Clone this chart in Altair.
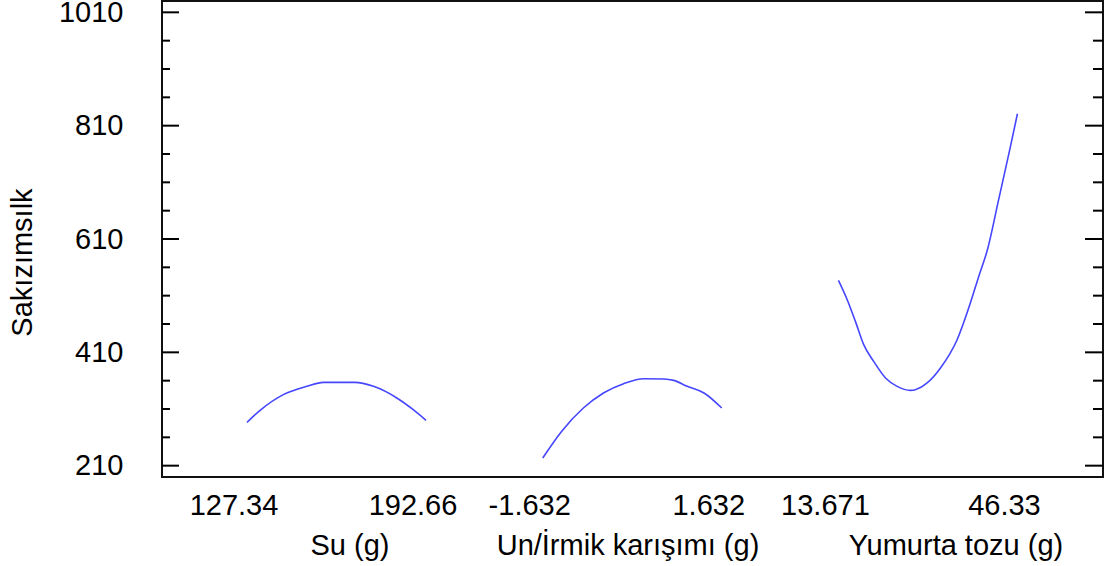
import altair as alt
import pandas as pd

# ---------------- data ----------------
factors = ["Su (g)", "Un/İrmik karışımı (g)", "Yumurta tozu (g)"]
lows = [127.34, -1.632, 13.671]
highs = [192.66, 1.632, 46.33]
low_labels = ["127.34", "-1.632", "13.671"]
high_labels = ["192.66", "1.632", "46.33"]

su_g = [127.34, 132.1, 140.6, 149.2, 155.2, 161.3, 166.7, 173.5, 182.0, 188.0, 192.66]
su_y = [286.4, 307.6, 335.3, 350.0, 357.0, 357.0, 357.0, 350.0, 329.5, 308.8, 290.0]

un_g = [-1.632, -1.289, -0.891, -0.525, -0.157, 0.209, 0.574, 0.757, 1.002, 1.309, 1.632]
un_y = [223.6, 270.5, 311.8, 338.3, 354.7, 363.5, 363.0, 360.5, 350.0, 338.3, 311.8]

yum_g = [13.671, 15.27, 16.77, 18.28, 20.10, 22.26, 24.38, 26.80, 27.71, 29.84,
         32.29, 35.32, 37.74, 39.27, 40.85, 42.90, 45.06, 46.33]
yum_y = [537.0, 502.9, 464.6, 423.5, 394.0, 364.8, 350.0, 342.9, 344.1, 355.9,
         382.4, 432.3, 497.1, 544.0, 591.0, 679.4, 773.4, 831.1]

y_major = [210, 410, 610, 810, 1010]
y_minor = [260, 310, 360, 460, 510, 560, 660, 710, 760, 860, 910, 960]

# ---------------- layout constants ----------------
W, H = 941, 476
SPACING = 1.652
X_DOMAIN = [-0.475, 4.782]
Y_DOMAIN = [190, 1030]
FONT = "Liberation Sans"
FS = 29
LINE_COLOR = "#4646ff"
TITLE_X = [188, 466, 794]  # pixel centres of the factor titles inside the plot

# ---------------- tables ----------------
rows = []
for i, (gs, ys) in enumerate([(su_g, su_y), (un_g, un_y), (yum_g, yum_y)]):
    for g, v in zip(gs, ys):
        rows.append({"factor": factors[i], "idx": i, "level": g,
                     "lo": lows[i], "hi": highs[i], "value": v})
curves = pd.DataFrame(rows)

lab_rows = []
for i in range(3):
    lab_rows.append({"idx": i, "end": 0, "label": low_labels[i]})
    lab_rows.append({"idx": i, "end": 1, "label": high_labels[i]})
tick_labels = pd.DataFrame(lab_rows)

major_df = pd.DataFrame({"value": y_major})
minor_df = pd.DataFrame({"value": y_minor})

xscale = alt.Scale(domain=X_DOMAIN, zero=False, nice=False)
yscale = alt.Scale(domain=Y_DOMAIN, zero=False, nice=False)

yaxis = alt.Axis(
    values=y_major, format="d", ticks=False, domain=False, grid=False,
    labelPadding=39, labelFontSize=FS, labelFont=FONT, labelColor="black",
    title="Sakızımsılk", titleFontSize=FS, titleFont=FONT,
    titleFontWeight="normal", titleColor="black",
    titleAngle=270, titleX=-140, titleY=261,
    titleBaseline="middle", titleAlign="center",
)

Y = alt.Y("value:Q", scale=yscale, axis=yaxis)

lines = alt.Chart(curves).transform_calculate(
    pos=f"datum.idx * {SPACING} + (datum.level - datum.lo) / (datum.hi - datum.lo)"
).mark_line(color=LINE_COLOR, strokeWidth=1.6, interpolate="monotone").encode(
    x=alt.X("pos:Q", scale=xscale, axis=None),
    y=Y,
    detail="factor:N",
    order="level:Q",
)

labels = alt.Chart(tick_labels).transform_calculate(
    pos=f"datum.idx * {SPACING} + datum.end"
).mark_text(font=FONT, fontSize=FS, color="black", dx=-13,
            baseline="alphabetic", align="center").encode(
    x=alt.X("pos:Q", scale=xscale, axis=None),
    y=alt.value(514),
    text="label:N",
)

titles = [
    alt.Chart(pd.DataFrame({"t": [factors[i]]})).mark_text(
        font=FONT, fontSize=FS, color="black", baseline="alphabetic", align="center"
    ).encode(x=alt.value(TITLE_X[i]), y=alt.value(554), text="t:N")
    for i in range(3)
]

tick_layers = []
for df, left_len, right_len in [(major_df, 17, 18), (minor_df, 8, 10)]:
    tick_layers.append(
        alt.Chart(df).mark_rule(color="black", strokeWidth=2).encode(
            y=Y, x=alt.value(0), x2=alt.value(left_len))
    )
    tick_layers.append(
        alt.Chart(df).mark_rule(color="black", strokeWidth=2).encode(
            y=Y, x=alt.value(W), x2=alt.value(W - right_len))
    )

chart = alt.layer(lines, labels, *titles, *tick_layers).properties(
    width=W, height=H,
    autosize=alt.AutoSizeParams(type="none"),
    padding={"left": 162, "top": 1, "right": 12, "bottom": 89},
    background="white",
).configure_view(stroke="#111111", strokeWidth=2)

chart.save("out.html", embed_options={"renderer": "svg", "actions": False})
